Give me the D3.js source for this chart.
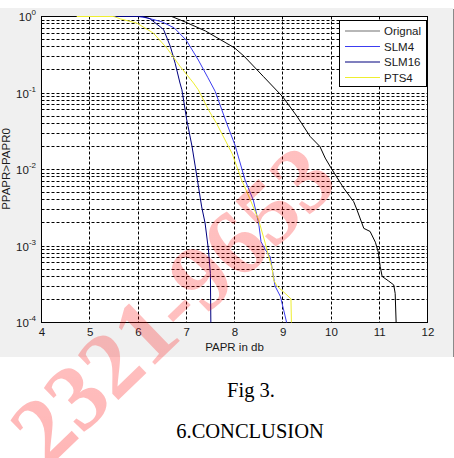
<!DOCTYPE html>
<html><head><meta charset="utf-8">
<script src="https://d3js.org/d3.v7.min.js"></script>
<style>body{margin:0;background:#fff;}svg{display:block;}</style>
</head><body>
<script>
// ---- data ----
const xTicks = [4,5,6,7,8,9,10,11,12];
const yTickExps = [0,-1,-2,-3,-4];
const seriesNames = ["Orignal","SLM4","SLM16","PTS4"];
const seriesColors = ["#000000","#3c3cf0","#00007f","#eeee30"];

const origX = [6.0,6.7,7.0,7.4,8.0,8.2,8.6,9.0,9.3,9.57,9.77,9.88,10.0,10.26,10.47,10.54,10.68,10.81,10.92,10.98,11.02,11.06,11.19,11.30,11.33,11.35];
const origP = [1,1,0.836,0.646,0.389,0.302,0.164,0.0891,0.049,0.0269,0.02,0.0141,0.0105,0.00575,0.0038,0.00295,0.0017,0.00155,0.00112,0.00083,0.00054,0.0004,0.00035,0.00031,0.00024,0.0001];

const slm4X = [5.4,6.0,6.2,6.5,6.75,7.0,7.25,7.45,7.6,7.84,8.01,8.22,8.39,8.50,8.55,8.64,8.74,8.78,8.84,8.95,9.02,9.08];
const slm4P = [1,1,0.955,0.85,0.71,0.49,0.27,0.158,0.105,0.0398,0.0209,0.00724,0.00398,0.002,0.00114,0.00089,0.00072,0.00051,0.0003,0.00022,0.000145,0.0001];

const slm16X = [5.3,6.1,6.25,6.53,6.67,6.77,6.87,6.91,7.01,7.12,7.22,7.32,7.39,7.46,7.50,7.51];
const slm16P = [1,1,0.933,0.676,0.407,0.245,0.135,0.11,0.0447,0.02,0.0081,0.00324,0.002,0.00089,0.00044,0.0001];

const pts4X = [4.73,5.5,5.63,5.98,6.32,6.60,6.87,7.15,7.25,7.46,7.63,7.95,8.15,8.33,8.50,8.64,8.71,8.78,8.81,8.88,9.05,9.17,9.18];
const pts4P = [1,1,0.933,0.818,0.605,0.385,0.224,0.135,0.11,0.0603,0.0398,0.0162,0.00724,0.00398,0.00219,0.00107,0.00072,0.00051,0.00036,0.0003,0.00024,0.000204,0.0001];

const seriesX = [origX, slm4X, slm16X, pts4X];
const seriesP = [origP, slm4P, slm16P, pts4P];

// ---- layout ----
const W = 454, H = 458;
const svg = d3.select("body").append("svg").attr("width", W).attr("height", H);

// figure background
svg.append("rect").attr("x",0).attr("y",8).attr("width",453).attr("height",349).attr("fill","#f0f0f0");
svg.append("line").attr("x1",453.5).attr("x2",453.5).attr("y1",9).attr("y2",357).attr("stroke","#8a8a8a").attr("stroke-width",1);

const x = d3.scaleLinear().domain([4,12]).range([41.5,427.5]);
const y = d3.scaleLog().domain([1e-4,1]).range([322.5,16.5]);

const L = x(4), R = x(12), T = y(1), B = y(1e-4);
svg.append("rect").attr("x",L).attr("y",T).attr("width",R-L).attr("height",B-T).attr("fill","#fff");

const grid = svg.append("g").attr("stroke","#000").attr("stroke-width",1).attr("stroke-dasharray","3,2").attr("fill","none");
// vertical grid
xTicks.filter(t => t>4 && t<12).forEach(t => {
  const px = Math.round(x(t)-0.5)+0.5;
  grid.append("line").attr("x1",px).attr("x2",px).attr("y1",T).attr("y2",B);
});
// horizontal grid (major + minor)
const yGrid = [];
for (let e=-4; e<0; e++) for (let m=1; m<10; m++) { const v = m*Math.pow(10,e); if (v>1e-4) yGrid.push(v); }
yGrid.forEach(v => {
  const py = Math.round(y(v)-0.5)+0.5;
  grid.append("line").attr("x1",L).attr("x2",R).attr("y1",py).attr("y2",py);
});

// axes box
svg.append("rect").attr("x",L).attr("y",T).attr("width",R-L).attr("height",B-T).attr("fill","none").attr("stroke","#000").attr("stroke-width",1);

// x tick labels
const font = "'Liberation Sans', Arial, sans-serif";
const xAxis = d3.axisBottom(x).tickValues(xTicks).tickSize(0).tickPadding(0).tickFormat(d3.format("d"));
const gx = svg.append("g").attr("transform",`translate(0,${B})`).call(xAxis);
gx.select(".domain").remove();
gx.selectAll("text").attr("dy",null).attr("y",13.5).attr("font-family",font).attr("font-size","11.5px").attr("fill","#1a1a1a");

// y tick labels with superscripts
const yl = svg.append("g").attr("font-family",font).attr("fill","#1a1a1a");
yTickExps.forEach(e => {
  const v = Math.pow(10,e);
  const t = yl.append("text").attr("x",36).attr("y",y(v)+4.5).attr("text-anchor","end").attr("font-size","11.5px");
  t.append("tspan").text("10");
  t.append("tspan").attr("dy",-6).attr("font-size","8px").text(String(e));
});

// axis labels
svg.append("text").attr("x",(L+R)/2).attr("y",351).attr("text-anchor","middle").attr("font-family",font).attr("font-size","11.5px").attr("fill","#1a1a1a").text("PAPR in db");
svg.append("text").attr("transform",`translate(10,169) rotate(-90)`).attr("text-anchor","middle").attr("font-family",font).attr("font-size","11.5px").attr("fill","#1a1a1a").text("PPAPR>PAPR0");

// curves
const line = d3.line().x(d => x(d[0])).y(d => y(d[1]));
seriesNames.forEach((name,i) => {
  const pts = seriesX[i].map((xv,j) => [xv, seriesP[i][j]]);
  svg.append("path").datum(pts).attr("d",line).attr("fill","none").attr("stroke",seriesColors[i]).attr("stroke-width",1);
});

// legend
const lg = svg.append("g");
lg.append("rect").attr("x",339.5).attr("y",20.5).attr("width",87).attr("height",66).attr("fill","#fff").attr("stroke","#000").attr("stroke-width",1);
seriesNames.forEach((name,i) => {
  const ly = 31 + i*15.5;
  lg.append("line").attr("x1",345).attr("x2",380).attr("y1",ly).attr("y2",ly).attr("stroke",i===0?"#707070":seriesColors[i]).attr("stroke-width",1.2);
  lg.append("text").attr("x",384).attr("y",ly+4).attr("font-family",font).attr("font-size","11.5px").attr("fill","#1a1a1a").text(name);
});

// caption text
const serif = "'Liberation Serif','Times New Roman',serif";
svg.append("text").attr("x",251).attr("y",397).attr("text-anchor","middle").attr("font-family",serif).attr("font-size","20.5px").attr("fill","#000").text("Fig 3.");
svg.append("text").attr("x",250).attr("y",438).attr("text-anchor","middle").attr("font-family",serif).attr("font-size","20.5px").attr("fill","#000").text("6.CONCLUSION");

// watermark
const defs = svg.append("defs");
const gr = defs.append("linearGradient").attr("id","wm").attr("gradientUnits","userSpaceOnUse")
  .attr("x1",40).attr("y1",458).attr("x2",340).attr("y2",160);
gr.append("stop").attr("offset","0").attr("stop-color","#ff0000").attr("stop-opacity",0.8);
gr.append("stop").attr("offset","0.45").attr("stop-color","#ff0000").attr("stop-opacity",0.8);
gr.append("stop").attr("offset","0.6").attr("stop-color","#ff0000").attr("stop-opacity",0.3);
gr.append("stop").attr("offset","1").attr("stop-color","#ff0000").attr("stop-opacity",0.25);
svg.append("text").attr("transform","translate(48,468) rotate(-44)")
  .attr("font-family",serif).attr("font-weight","bold").attr("font-size","94px")
  .attr("fill","url(#wm)").text("2321-9653");
</script>
</body></html>
